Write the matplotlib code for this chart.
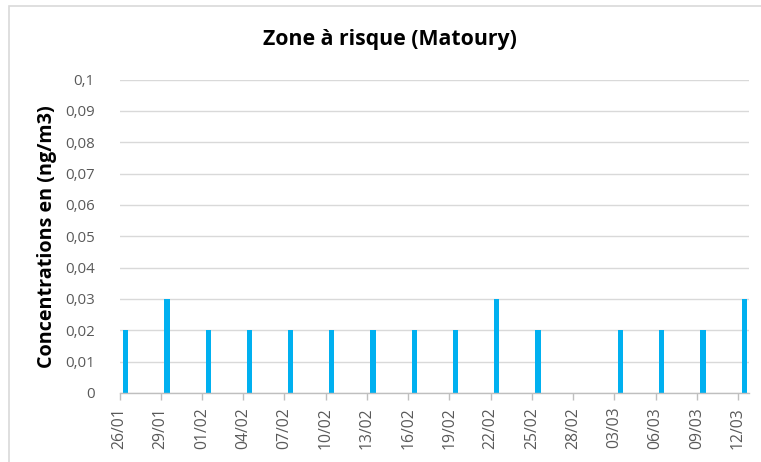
import matplotlib
matplotlib.use("Agg")
import matplotlib.pyplot as plt
from matplotlib.patches import Rectangle
import numpy as np
import datetime as dt

plt.rcParams['font.family'] = ['Open Sans', 'DejaVu Sans']

title = "Zone à risque (Matoury)"
ylabel = "Concentrations en (ng/m3)"
dates = ["26/01", "29/01", "01/02", "04/02", "07/02", "10/02", "13/02", "16/02",
         "19/02", "22/02", "25/02", "28/02", "03/03", "06/03", "09/03", "12/03"]
values = [0.02, 0.03, 0.02, 0.02, 0.02, 0.02, 0.02, 0.02,
          0.02, 0.03, 0.02, np.nan, 0.02, 0.02, 0.02, 0.03]
yticks = [0, 0.01, 0.02, 0.03, 0.04, 0.05, 0.06, 0.07, 0.08, 0.09, 0.1]
ytick_labels = ["0", "0,01", "0,02", "0,03", "0,04", "0,05", "0,06", "0,07", "0,08", "0,09", "0,1"]

start = dt.date(2019, 1, 26)
def day_index(s):
    d, m = map(int, s.split("/"))
    return (dt.date(2019, m, d) - start).days
xpos = np.array([day_index(s) for s in dates])

W, H = 761, 462
fig = plt.figure(figsize=(W / 100, H / 100), dpi=100)
fig.patches.append(Rectangle((9 / W, -0.1), 1.2, 1 - 6 / H + 0.1, transform=fig.transFigure,
                             fill=False, edgecolor='#d9d9d9', linewidth=1.2))
ax = fig.add_axes([119.5 / W, 1 - 393 / H, (749 - 119.5) / W, (393 - 79.5) / H])

ax.bar(xpos + 0.45, values, width=0.38, color='#00b0f0', zorder=3)
ax.set_xlim(0, 45.8)
ax.set_ylim(0, 0.1)
ax.set_yticks(yticks)
ax.set_yticklabels(ytick_labels)
ax.set_xticks(xpos)
ax.set_xticklabels(dates, rotation=90)
ax.grid(axis='y', color='#d9d9d9', linewidth=1, zorder=0)
for s in ['top', 'right', 'left']:
    ax.spines[s].set_visible(False)
ax.spines['bottom'].set_color('#bfbfbf')
ax.spines['bottom'].set_linewidth(1)
ax.spines['bottom'].set_zorder(4)
ax.tick_params(axis='y', length=0, pad=18, labelsize=10.8, labelcolor='#595959')
ax.tick_params(axis='x', length=5, width=1, color='#bfbfbf', pad=5, labelsize=11.3, labelcolor='#595959')
ax.set_ylabel(ylabel, fontsize=14.2, fontweight='bold', color='black')
ax.yaxis.set_label_coords(-0.099, 0.5)
fig.text(390 / W, 1 - 40 / H, title, ha='center', va='center', fontsize=15.3, fontweight='bold', color='black')

fig.savefig("out.png", dpi=100)
